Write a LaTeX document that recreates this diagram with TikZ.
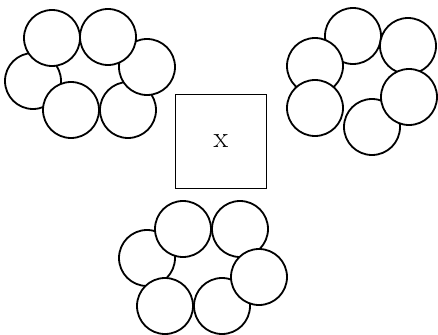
\documentclass[tikz,border=0pt]{standalone}
\begin{document}
\begin{tikzpicture}[x=1pt,y=-1pt,
  ball/.style={circle,draw,fill=white,line width=1.8pt,minimum size=56pt,inner sep=0pt},
  xbox/.style={rectangle,draw,line width=1.8pt,minimum width=91pt,minimum height=94pt,inner sep=0pt,font=\fontsize{30}{32}\selectfont}]
\useasboundingbox (0,0) rectangle (438,334);
% cluster top-left
\node[ball] (a4) at (33,81) {};
\node[ball] (a6) at (128,110) {};
\node[ball] (a3) at (147,67) {};
\node[ball] (a2) at (108,37) {};
\node[ball] (a1) at (52,38) {};
\node[ball] (a5) at (71,110) {};
% cluster top-right
\node[ball] (b1) at (353,36) {};
\node[ball] (b2) at (315,66) {};
\node[ball] (b3) at (315,108) {};
\node[ball] (b4) at (408,46) {};
\node[ball] (b5) at (372,127) {};
\node[ball] (b6) at (409,97) {};
% cluster bottom
\node[ball] (c3) at (147,258) {};
\node[ball] (c1) at (183,229) {};
\node[ball] (c2) at (240,229) {};
\node[ball] (c5) at (165,306) {};
\node[ball] (c6) at (222,306) {};
\node[ball] (c4) at (259,277) {};
% box
\node[xbox] (box) at (221,141.5) {x};
\end{tikzpicture}
\end{document}
